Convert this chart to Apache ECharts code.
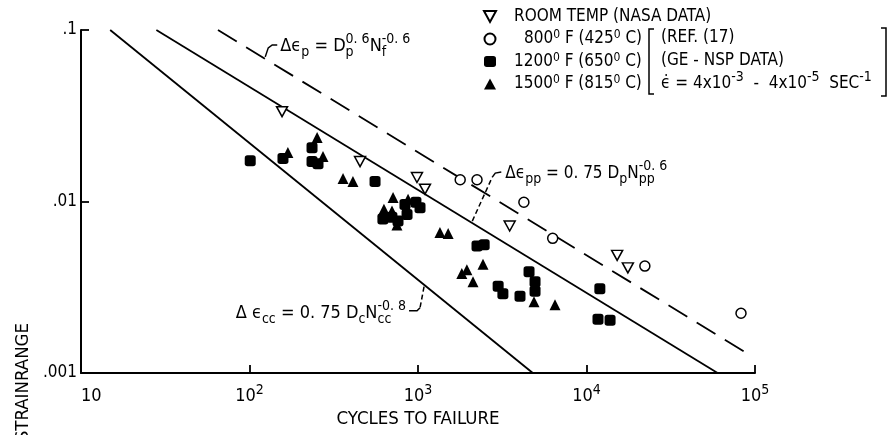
<!DOCTYPE html>
<html><head><meta charset="utf-8">
<script src="https://cdn.jsdelivr.net/npm/echarts@6/dist/echarts.min.js"></script>
<style>html,body{margin:0;padding:0;background:#fff}#c{width:894px;height:435px}</style>
</head><body><div id="c"></div>
<script>
const FONT = '"Liberation Sans Narrow","DejaVu Sans Condensed","Liberation Sans",sans-serif';

// ---- data ----
const xTickExps = {1: '', 2: '2', 3: '3', 4: '4', 5: '5'};
const yTickLabels = {'-3': '.001', '-2': '.01', '-1': '.1'};

const roomN = [156, 453, 986, 1100, 3500, 15200, 17600];
const roomE = [0.0334, 0.0171, 0.0138, 0.0118, 0.0072, 0.00485, 0.0041];

const t800N = [1780, 2240, 4250, 6300, 22200, 82600];
const t800E = [0.0134, 0.0134, 0.0099, 0.0061, 0.0042, 0.00223];

const t1200N = [101, 158, 235, 235, 255, 556, 837, 972, 1028, 619, 761, 861, 700, 2240, 2470, 2990, 3190, 4030, 4560, 4950, 4950, 12000, 11700, 13800];
const t1200E = [0.0173, 0.0178, 0.0206, 0.0171, 0.0166, 0.0131, 0.0096, 0.0099, 0.0092, 0.0079, 0.0077, 0.0084, 0.0081, 0.0055, 0.0056, 0.0032, 0.0029, 0.0028, 0.0039, 0.0034, 0.0030, 0.0031, 0.00206, 0.00203];

const t1500N = [169, 252, 273, 359, 411, 711, 628, 701, 873, 750, 1350, 1510, 1820, 1950, 2120, 2430, 4880, 6500];
const t1500E = [0.0193, 0.0236, 0.0183, 0.0136, 0.0131, 0.01055, 0.0090, 0.0088, 0.0103, 0.0073, 0.0066, 0.0065, 0.0038, 0.0040, 0.0034, 0.0043, 0.0026, 0.0025];

// fitted lines (end points)
const fitP_N = [65, 90000];   const fitP_E = [0.1, 0.0013];
const fitPP_N = [28, 60000];  const fitPP_E = [0.1, 0.001];
const fitCC_N = [14.9, 4800]; const fitCC_E = [0.1, 0.001];

const zip = (a, b) => a.map((v, i) => [v, b[i]]);

const chart = echarts.init(document.getElementById('c'), null, {renderer: 'canvas'});

const legendNames = {
  room: '{pad0|}{n|ROOM TEMP (NASA DATA)}',
  t800: '{pad1|}{n|800}{s|0}{n| F (425}{s|0}{n| C)}',
  t1200: '{pad0|}{n|1200}{s|0}{n| F (650}{s|0}{n| C)}',
  t1500: '{pad0|}{n|1500}{s|0}{n| F (815}{s|0}{n| C)}'
};

const lineStyleBase = {color: '#000', width: 1.8};

chart.setOption({
  animation: false,
  backgroundColor: '#fff',
  grid: {left: 81, right: 139, top: 30, bottom: 62},
  xAxis: {
    type: 'log', logBase: 10, min: 10, max: 100000,
    axisLine: {lineStyle: {color: '#000', width: 2}},
    axisTick: {inside: true, length: 8, lineStyle: {color: '#000', width: 1.8}},
    splitLine: {show: false}, minorTick: {show: false},
    axisLabel: {
      margin: 10, alignMinLabel: 'left',
      formatter: v => {
        const e = Math.round(Math.log10(v));
        return xTickExps[e] ? '{b|10}{s|' + xTickExps[e] + '}' : '{b|10}';
      },
      rich: {
        b: {fontFamily: FONT, fontSize: 18, color: '#000', lineHeight: 26},
        s: {fontFamily: FONT, fontSize: 14, color: '#000', lineHeight: 13, verticalAlign: 'top'}
      }
    },
    name: 'CYCLES TO FAILURE', nameLocation: 'middle', nameGap: 35,
    nameTextStyle: {fontFamily: FONT, fontSize: 18.5, color: '#000'}
  },
  yAxis: {
    type: 'log', logBase: 10, min: 0.001, max: 0.1,
    axisLine: {lineStyle: {color: '#000', width: 2}},
    axisTick: {inside: true, length: 8, lineStyle: {color: '#000', width: 1.8}},
    splitLine: {show: false}, minorTick: {show: false},
    axisLabel: {
      margin: 4, fontFamily: FONT, fontSize: 17, color: '#000',
      formatter: v => yTickLabels[String(Math.round(Math.log10(v)))] || ''
    }
  },
  legend: {
    left: 483, top: 8, padding: 0, orient: 'vertical', itemGap: 4,
    itemWidth: 12, itemHeight: 11, symbolKeepAspect: true,
    data: ['room', 't800', 't1200', 't1500'],
    formatter: n => legendNames[n],
    textStyle: {
      rich: {
        pad0: {width: 13}, pad1: {width: 23},
        n: {fontFamily: FONT, fontSize: 17, color: '#000', lineHeight: 20},
        s: {fontFamily: FONT, fontSize: 12, color: '#000', lineHeight: 11, verticalAlign: 'top'}
      }
    }
  },
  series: [
    {type: 'line', name: 'fitP', data: zip(fitP_N, fitP_E), symbol: 'none', silent: true,
     lineStyle: Object.assign({}, lineStyleBase, {type: [22, 11]}), z: 1},
    {type: 'line', name: 'fitPP', data: zip(fitPP_N, fitPP_E), symbol: 'none', silent: true,
     lineStyle: lineStyleBase, z: 1},
    {type: 'line', name: 'fitCC', data: zip(fitCC_N, fitCC_E), symbol: 'none', silent: true,
     lineStyle: lineStyleBase, z: 1},
    {type: 'scatter', name: 'room', data: zip(roomN, roomE), symbol: 'path://M0,0L10,0L5,9Z',
     symbolSize: [11, 10], itemStyle: {color: '#fff', borderColor: '#000', borderWidth: 1.5, opacity: 1}, z: 3},
    {type: 'scatter', name: 't800', data: zip(t800N, t800E), symbol: 'circle',
     symbolSize: 10, itemStyle: {color: '#fff', borderColor: '#000', borderWidth: 1.5, opacity: 1}, z: 3},
    {type: 'scatter', name: 't1200', data: zip(t1200N, t1200E), symbol: 'roundRect',
     symbolSize: 11, itemStyle: {color: '#000', opacity: 1}, z: 3},
    {type: 'scatter', name: 't1500', data: zip(t1500N, t1500E), symbol: 'triangle',
     symbolSize: 11, itemStyle: {color: '#000', opacity: 1}, z: 3}
  ]
});

// ---- annotations ----
const ctx = document.createElement('canvas').getContext('2d');
function tw(t, size) { ctx.font = size + 'px ' + FONT; return ctx.measureText(t).width; }
function formula(x, y, parts, anchor, NS, SS) {
  NS = NS || 17; SS = SS || 13;
  const items = []; let cx = 0;
  parts.forEach(p => {
    if (p[1] === 'n') { items.push([p[0], cx, 0, NS]); cx += tw(p[0], NS); }
    else if (p[1] === 'sub') { items.push([p[0], cx, 6, SS]); cx += tw(p[0], SS); }
    else if (p[1] === 'sup') { items.push([p[0], cx, -7, SS]); cx += tw(p[0], SS); }
    else if (p[1] === 'ss') {
      items.push([p[0], cx, 6, SS]); items.push([p[2], cx, -7, SS]);
      cx += Math.max(tw(p[0], SS), tw(p[2], SS));
    }
  });
  const x0 = anchor === 'right' ? x - cx : x;
  return items.map(it => ({
    type: 'text', x: x0 + it[1], y: y + it[2], silent: true,
    style: {text: it[0], fontFamily: FONT, fontSize: it[3], fill: '#000', align: 'left', verticalAlign: 'middle'}
  }));
}
function onLine(Ns, Es, n) {
  const t = (Math.log10(n) - Math.log10(Ns[0])) / (Math.log10(Ns[1]) - Math.log10(Ns[0]));
  return Math.pow(10, Math.log10(Es[0]) + t * (Math.log10(Es[1]) - Math.log10(Es[0])));
}
const px = (n, e) => chart.convertToPixel({xAxisIndex: 0, yAxisIndex: 0}, [n, e]);
const seg = (pts, dash) => ({type: 'polyline', silent: true, shape: {points: pts},
  style: {stroke: '#000', lineWidth: 1.5, fill: null, lineDash: dash || null}});

const g = [];
// Δεp leader
const A1 = px(124, onLine(fitP_N, fitP_E, 124));
g.push(seg([[A1[0], A1[1] - 2], [A1[0] + 3, A1[1] - 11], [A1[0] + 7, A1[1] - 14], [A1[0] + 12, A1[1] - 14]]));
g.push(...formula(A1[0] + 15, A1[1] - 13, [['Δϵ', 'n'], ['p', 'sub'], [' = D', 'n'], ['p', 'ss', '0. 6'], ['N', 'n'], ['f', 'ss', '-0. 6']], 'left', 18, 14));
// Δεpp leader
const A2 = px(2100, onLine(fitPP_N, fitPP_E, 2100));
g.push(seg([[A2[0], A2[1] - 2], [A2[0] + 20, A2[1] - 46]], [5, 3]));
g.push(seg([[A2[0] + 20, A2[1] - 46], [A2[0] + 23, A2[1] - 50], [A2[0] + 29, A2[1] - 51]]));
g.push(...formula(A2[0] + 33, A2[1] - 50, [['Δϵ', 'n'], ['pp', 'sub'], [' = 0. 75 D', 'n'], ['p', 'sub'], ['N', 'n'], ['pp', 'ss', '-0. 6']], 'left', 17, 14));
// Δεcc leader
const A3 = px(1086, onLine(fitCC_N, fitCC_E, 1086));
g.push(seg([[A3[0], A3[1] + 2], [A3[0] - 4, A3[1] + 23]], [5, 3]));
g.push(seg([[A3[0] - 4, A3[1] + 23], [A3[0] - 7, A3[1] + 26], [A3[0] - 15, A3[1] + 26]]));
g.push(...formula(A3[0] - 18, A3[1] + 29, [['Δ ϵ', 'n'], ['cc', 'sub'], [' = 0. 75 D', 'n'], ['c', 'sub'], ['N', 'n'], ['cc', 'ss', '-0. 8']], 'right', 18, 14));

// legend bracket block (rows aligned with the legend rows)
g.push(seg([[654, 29], [649, 29], [649, 94], [654, 94]]));
g.push(seg([[881, 28], [886, 28], [886, 96], [881, 96]]));
g.push(...formula(661, 38, [['(REF. (17)', 'n']]));
g.push(...formula(661, 61, [['(GE - NSP DATA)', 'n']]));
g.push(...formula(661, 84, [['ϵ̇ = 4x10', 'n'], ['-3', 'sup'], ['  -  4x10', 'n'], ['-5', 'sup'], ['  SEC', 'n'], ['-1', 'sup']], 'left', 17, 14));

// y axis title
g.push({type: 'text', x: 23, y: 323, rotation: Math.PI / 2, silent: true,
  style: {text: 'STRAINRANGE', fontFamily: FONT, fontSize: 18.5, fill: '#000', align: 'right', verticalAlign: 'middle'}});

chart.setOption({graphic: g});
</script>
</body></html>
